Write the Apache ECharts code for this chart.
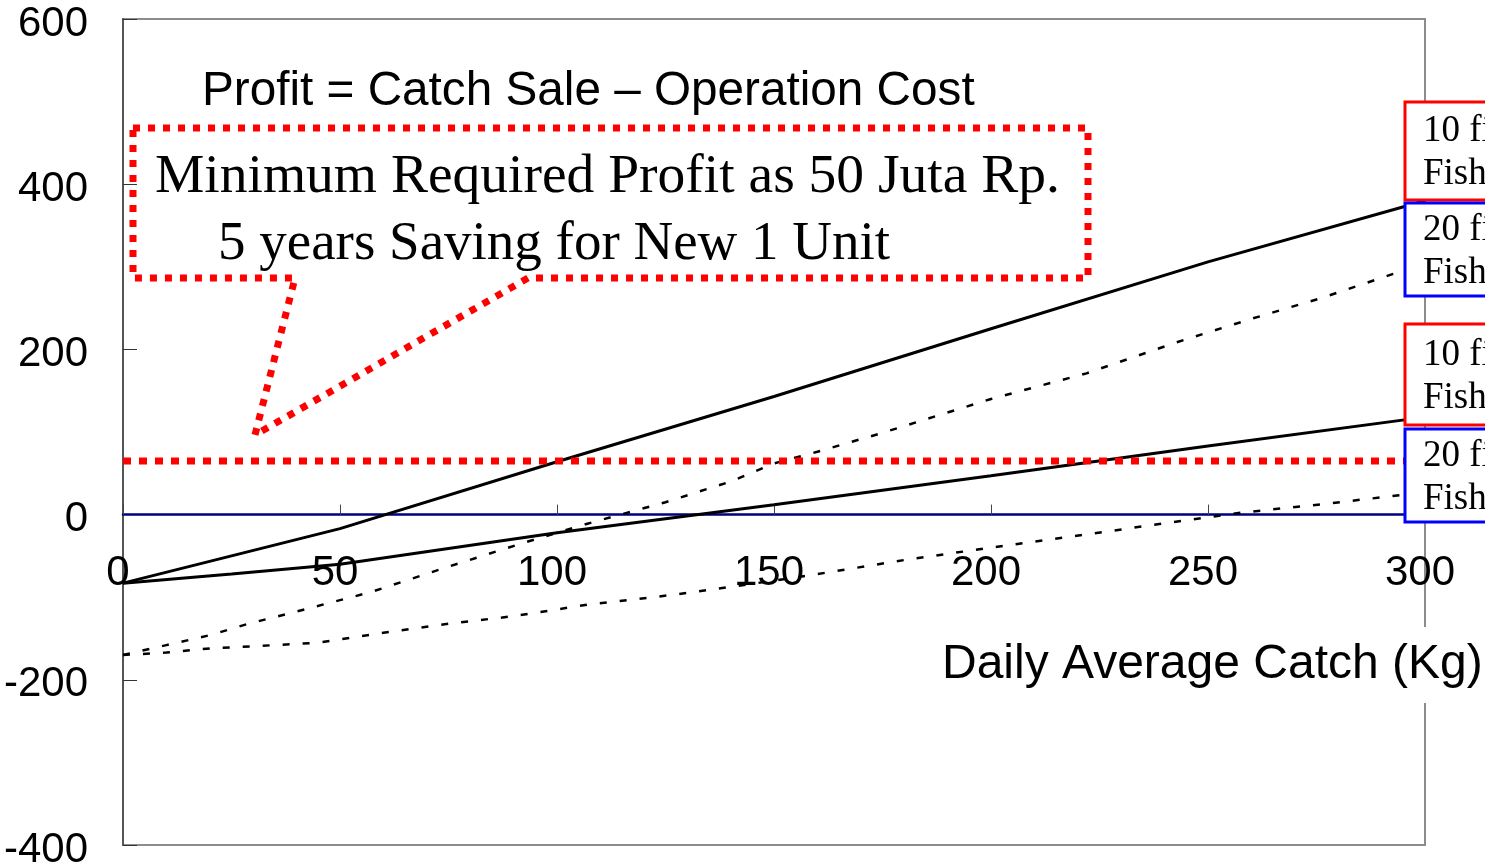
<!DOCTYPE html>
<html>
<head>
<meta charset="utf-8">
<title>Profit vs Daily Average Catch</title>
<script src="https://cdn.jsdelivr.net/npm/echarts@6/dist/echarts.min.js"></script>
<style>
  html, body { margin: 0; padding: 0; background: #fff; }
  #chart { width: 1485px; height: 867px; }
</style>
</head>
<body>
<div id="chart"></div>
<script>
// axis ranges (catch in kg, profit in juta Rp)
const xMin = 0, xMax = 300, xStep = 50;
const yMin = -400, yMax = 600, yStep = 200;

// 10 f... / upper (solid)
const solidHighX = [0, 50, 100, 150, 200, 250, 300];
const solidHighY = [-83, -17, 64, 143, 225, 306, 380];
// 10 f... / lower (solid)
const solidLowX = [0, 25, 50, 100, 150, 200, 250, 300];
const solidLowY = [-83, -72, -60, -22, 12, 47, 83, 118];
// 20 f... / upper (dashed)
const dashHighX = [0, 10, 20, 29, 38, 57, 75, 93, 107, 125, 140, 150, 160, 175, 200, 222, 243, 260, 276, 293, 300];
const dashHighY = [-170, -158, -146, -132, -120, -94, -63, -33, -11, 15, 40, 62, 76, 99, 140, 171, 209, 237, 262, 292, 297];
// 20 f... / lower (dashed)
const dashLowX = [0, 10, 20, 35, 45, 60, 75, 90, 107, 127, 146, 160, 180, 200, 222, 242, 257, 277, 300];
const dashLowY = [-170, -167, -162, -158, -155, -143, -132, -123, -109, -97, -83, -72, -55, -40, -24, -9, 2, 13, 27];
// minimum required profit
const minProfitX = [0, 300];
const minProfitY = [65, 65];

const boxLabels = [
  { text: '10 fishermen\nFish price high', color: '#ff0000', top: 102, bottom: 200 },
  { text: '20 fishermen\nFish price high', color: '#0000ff', top: 203, bottom: 296 },
  { text: '10 fishermen\nFish price low', color: '#ff0000', top: 324, bottom: 425 },
  { text: '20 fishermen\nFish price low', color: '#0000ff', top: 429, bottom: 522 }
];

const pairs = (xs, ys) => xs.map((x, i) => [x, ys[i]]);

const sans = 'Liberation Sans, Arial, sans-serif';
const serif = 'Liberation Serif, Times New Roman, serif';

const gridTop = 19, gridBottom = 22, chartH = 867;
// distance of the zero line above the bottom edge of the plot
const plotH = chartH - gridTop - gridBottom;
const zeroOffset = plotH * (0 - yMin) / (yMax - yMin);

const chart = echarts.init(document.getElementById('chart'));

const lineSeries = (data, dashed) => ({
  type: 'line',
  data: data,
  showSymbol: false,
  symbol: 'none',
  silent: true,
  lineStyle: dashed
    ? { color: '#000', width: 2.5, type: [7, 13] }
    : { color: '#000', width: 3 },
  z: 3
});

const boxGraphics = [];
boxLabels.forEach(b => {
  boxGraphics.push({
    type: 'rect',
    z: 100,
    shape: { x: 1405, y: b.top, width: 200, height: b.bottom - b.top },
    style: { fill: '#fff', stroke: b.color, lineWidth: 3 }
  });
  boxGraphics.push({
    type: 'text',
    z: 101,
    x: 1423,
    y: (b.top + b.bottom) / 2 + 2,
    style: {
      text: b.text,
      font: '37px ' + serif,
      fill: '#000',
      lineHeight: 43,
      verticalAlign: 'middle',
      align: 'left'
    }
  });
});

const option = {
  animation: false,
  backgroundColor: '#fff',
  grid: {
    left: 123, top: gridTop, right: 60, bottom: gridBottom,
    containLabel: false,
    outerBoundsMode: 'none',
    show: true,
    borderColor: '#8c8c8c',
    borderWidth: 2,
    backgroundColor: 'transparent'
  },
  xAxis: {
    type: 'value',
    min: xMin, max: xMax, interval: xStep,
    position: 'bottom',
    offset: -zeroOffset,
    axisLine: { onZero: false, lineStyle: { color: '#000080', width: 2.5 } },
    axisTick: { inside: true, length: 10, lineStyle: { color: '#444', width: 1 } },
    axisLabel: {
      margin: 38,
      fontSize: 42,
      fontFamily: sans,
      color: '#000',
      padding: [0, 10, 0, 0]
    },
    splitLine: { show: false },
    z: 1
  },
  yAxis: {
    type: 'value',
    min: yMin, max: yMax, interval: yStep,
    axisLine: { show: true, onZero: false, lineStyle: { color: '#555', width: 2 } },
    axisTick: { show: true, inside: true, length: 14, lineStyle: { color: '#333', width: 1 } },
    axisLabel: {
      margin: 35,
      fontSize: 42,
      fontFamily: sans,
      color: '#000',
      verticalAlign: 'top',
      lineHeight: 10,
      formatter: v => (v < 0 ? '-' + Math.abs(v) : String(v))
    },
    splitLine: { show: false }
  },
  series: [
    lineSeries(pairs(solidHighX, solidHighY), false),
    lineSeries(pairs(solidLowX, solidLowY), false),
    lineSeries(pairs(dashHighX, dashHighY), true),
    lineSeries(pairs(dashLowX, dashLowY), true),
    {
      type: 'line',
      data: pairs(minProfitX, minProfitY),
      showSymbol: false,
      symbol: 'none',
      silent: true,
      lineStyle: { color: '#ff0000', width: 7, type: [8, 8], cap: 'butt' },
      z: 5
    }
  ],
  graphic: [
    {
      type: 'polygon',
      z: 50,
      shape: {
        points: [[133, 128], [1088, 128], [1088, 278], [528, 278], [255, 435], [295, 278], [133, 278]]
      },
      style: { fill: 'transparent', stroke: '#ff0000', lineWidth: 7, lineDash: [7, 8] }
    },
    {
      type: 'text', z: 51, x: 202, y: 92,
      style: { text: 'Profit = Catch Sale \u2013 Operation Cost', font: '47.7px ' + sans, fill: '#000', verticalAlign: 'middle' }
    },
    {
      type: 'text', z: 51, x: 155, y: 177,
      style: { text: 'Minimum Required Profit as 50 Juta Rp.', font: '55.5px ' + serif, fill: '#000', verticalAlign: 'middle' }
    },
    {
      type: 'text', z: 51, x: 218, y: 245,
      style: { text: '5 years Saving for New 1 Unit', font: '55px ' + serif, fill: '#000', verticalAlign: 'middle' }
    },
    {
      type: 'text', z: 51, x: 936, y: 665,
      style: {
        text: 'Daily Average Catch (Kg)', font: '48px ' + sans, fill: '#000',
        verticalAlign: 'middle', backgroundColor: '#fff', padding: [14, 6, 14, 6]
      }
    }
  ].concat(boxGraphics)
};

chart.setOption(option);
</script>
</body>
</html>
